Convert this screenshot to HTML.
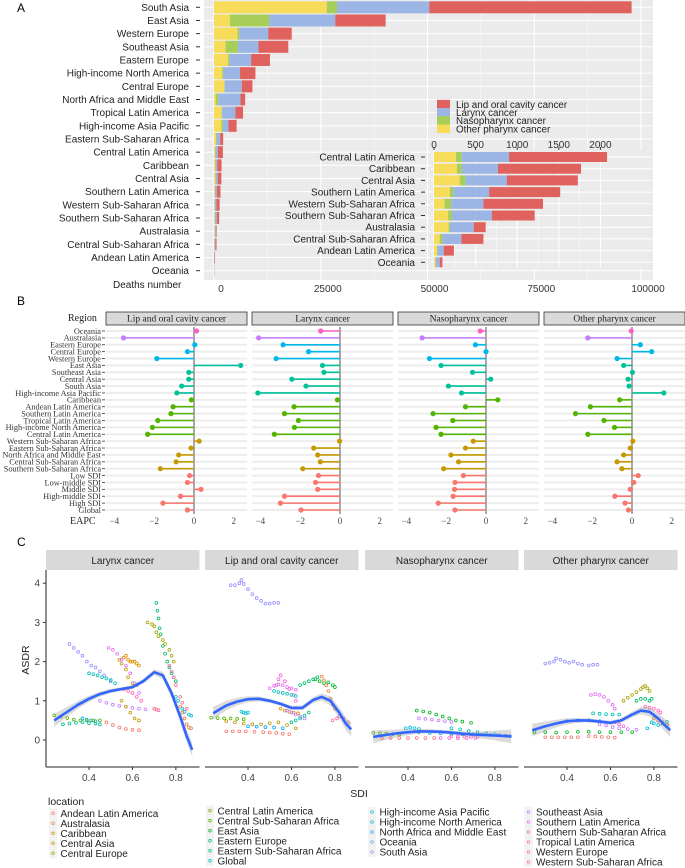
<!DOCTYPE html>
<html><head><meta charset="utf-8">
<style>
html,body{margin:0;padding:0;background:#fff;}
svg{display:block;font-family:"Liberation Sans",sans-serif;}
.serif{font-family:"Liberation Serif",serif;}
</style></head>
<body>
<svg id="fig" width="685" height="868" viewBox="0 0 685 868" xmlns="http://www.w3.org/2000/svg">
<text x="17" y="12" font-size="12">A</text>
<text x="17" y="305" font-size="12">B</text>
<text x="17" y="546" font-size="12">C</text>
<g id="pa"></g>
<g id="pb"></g>
<g id="pc"></g>
</svg>
<script>
// ---------- Panel A data ----------
const regionsA = ["South Asia","East Asia","Western Europe","Southeast Asia","Eastern Europe","High-income North America","Central Europe","North Africa and Middle East","Tropical Latin America","High-income Asia Pacific","Eastern Sub-Saharan Africa","Central Latin America","Caribbean","Central Asia","Southern Latin America","Western Sub-Saharan Africa","Southern Sub-Saharan Africa","Australasia","Central Sub-Saharan Africa","Andean Latin America","Oceania"];
const otherA  = [26400,3700,5500,2700,3300,1900,2400,400,1800,1700,450,265,276,308,191,127,170,175,69,37,16];
const nasoA   = [2400,9200,400,2900,300,300,100,600,100,400,150,69,58,69,42,80,47,16,32,5,5];
const larynxA = [21600,15500,6800,4800,5100,3900,4000,5200,3100,1300,850,568,435,498,430,387,478,286,228,75,48];
const lipA    = [47400,11800,5500,7000,4400,3600,2500,1100,1800,1900,700,1178,998,854,854,716,515,144,265,122,32];
const ticksA = [0,25000,50000,75000,100000];
const ticksInset = [0,500,1000,1500,2000];
const insetStart = 11;
const seriesNamesA = ["Lip and oral cavity cancer","Larynx cancer","Nasopharynx cancer","Other pharynx cancer"];
const colA = {lip:"#E0625E",lar:"#9BB5E5",naso:"#A8CE5A",oth:"#F7DC5A"};

// ---------- Panel B data ----------
const regionsB = ["Oceania","Australasia","Eastern Europe","Central Europe","Western Europe","East Asia","Southeast Asia","Central Asia","South Asia","High-income Asia Pacific","Caribbean","Andean Latin America","Southern Latin America","Tropical Latin America","High-income North America","Central Latin America","Western Sub-Saharan Africa","Eastern Sub-Saharan Africa","North Africa and Middle East","Central Sub-Saharan Africa","Southern Sub-Saharan Africa","Low SDI","Low-middle SDI","Middle SDI","High-middle SDI","High SDI","Global"];
const groupB = [0,1,2,2,2,3,3,3,3,3,4,4,4,4,4,4,5,5,5,5,5,6,6,6,6,6,6];
const panelsB = ["Lip and oral cavity cancer","Larynx cancer","Nasopharynx cancer","Other pharynx cancer"];
const eapcLip = [0.13,-3.54,0.04,-0.33,-1.87,2.35,-0.26,-0.26,-0.62,-0.86,-0.13,-1.05,-1.16,-1.82,-2.09,-2.33,0.26,-0.15,-0.77,-0.9,-1.69,-0.22,-0.33,0.35,-0.68,-1.56,-0.33];
const eapcLarynx = [-0.97,-4.09,-2.86,-1.58,-3.21,-0.88,-0.81,-2.42,-1.71,-4.13,-0.13,-2.31,-2.79,-2.09,-2.29,-3.30,-0.02,-1.32,-1.12,-0.99,-1.87,-1.08,-1.23,-1.12,-2.79,-2.99,-1.96];
const eapcNaso = [-0.29,-3.21,-0.53,0.0,-2.84,-2.26,-0.68,0.24,-1.89,-1.23,0.59,-1.03,-2.66,-1.67,-2.51,-2.26,-0.64,-1.03,-1.76,-1.38,-2.13,-1.14,-1.56,-1.58,-1.65,-2.40,-1.56];
const eapcOther = [-0.04,-2.22,0.42,0.99,-0.75,-0.42,0.02,-0.2,-0.15,1.6,-0.62,-2.09,-2.84,-1.41,-0.88,-2.22,0.04,-0.09,-0.42,-0.75,-0.51,0.31,0.09,-0.09,-0.86,-0.35,-0.18];
const ticksB = [-4,-2,0,2];
const groupColors = ["#FF61C3","#C77CFF","#00B8E7","#00C19A","#53B400","#C49A00","#F8766D"];

// ---------- Panel C data ----------
const panelsC = ["Larynx cancer","Lip and oral cavity cancer","Nasopharynx cancer","Other pharynx cancer"];
const locations = ["Andean Latin America","Australasia","Caribbean","Central Asia","Central Europe","Central Latin America","Central Sub-Saharan Africa","East Asia","Eastern Europe","Eastern Sub-Saharan Africa","Global","High-income Asia Pacific","High-income North America","North Africa and Middle East","Oceania","South Asia","Southeast Asia","Southern Latin America","Southern Sub-Saharan Africa","Tropical Latin America","Western Europe","Western Sub-Saharan Africa"];
const locColors = ["#F8766D","#EC823C","#DA8E00","#C49A00","#A8A400","#85AD00","#53B400","#00B81F","#00BE6C","#00C094","#00C0B8","#00BBD8","#00B4EF","#00A8FF","#619CFF","#9590FF","#C77CFF","#E36EF6","#F565E3","#FF63B6","#FD6C9E","#FF6C90"];
const ticksCx = [0.4,0.6,0.8];
const ticksCy = [0,1,2,3,4];
const trajSdi = [
 [0.31,0.33,0.35,0.37,0.39,0.41,0.43,0.45,0.47,0.50],
 [0.54,0.56,0.57,0.58,0.59,0.60,0.61,0.62,0.63],
 [0.55,0.57,0.58,0.60,0.62],
 [0.71,0.715,0.72,0.725,0.73,0.74,0.75,0.76,0.77,0.78,0.79,0.80],
 [0.67,0.69,0.70,0.71,0.72,0.74,0.75,0.77,0.78,0.79],
 [0.49,0.51,0.53,0.55,0.57,0.59,0.61,0.63],
 [0.45,0.48,0.51,0.54,0.57,0.60,0.63,0.66],
 [0.40,0.42,0.44,0.46,0.48,0.50,0.52],
 [0.77,0.78,0.79,0.80,0.82,0.83,0.85],
 [0.80,0.81,0.83,0.84,0.86,0.87],
 [0.37,0.39,0.41,0.43],
 [0.48,0.51,0.54,0.57,0.60,0.63],
 [0.24,0.27,0.30,0.33,0.36,0.39,0.42,0.45],
 [0.28,0.31,0.34,0.37,0.40,0.43,0.45],
 [0.82,0.83,0.84,0.85,0.86,0.87],
 [0.56,0.58,0.60,0.62,0.64],
 [0.55,0.57,0.59,0.61,0.63],
 [0.70,0.71,0.72],
 [0.32,0.34,0.36,0.37,0.38,0.40,0.42,0.44,0.46,0.48,0.50,0.52,0.54],
 [0.50,0.52,0.54,0.56,0.58,0.60,0.62],
 [0.53,0.54,0.55,0.57,0.59,0.61,0.62],
 [0.71,0.73,0.75,0.77,0.79,0.80],
 [0.64,0.66,0.68,0.70,0.72],
 [0.74,0.75,0.76,0.77,0.78,0.79,0.80],
 [0.52,0.54,0.56,0.58,0.60,0.62],
 [0.55,0.57,0.59,0.61,0.63],
 [0.58,0.60,0.62,0.64,0.66],
 [0.37,0.38,0.39,0.40],
 [0.23,0.26,0.29,0.32,0.35,0.38],
 [0.30,0.34,0.38,0.42,0.46,0.50,0.54,0.58,0.62],
 [0.40,0.44,0.48,0.52,0.56],
 [0.30,0.33,0.36,0.39,0.43],
 [0.47,0.50,0.53,0.56,0.59],
 [0.60,0.62,0.64,0.66,0.68],
 [0.79,0.81,0.82,0.84,0.86],
 [0.44,0.47,0.50,0.53,0.56,0.59,0.62,0.65,0.69],
 [0.45,0.48,0.51,0.54,0.57,0.60],
 [0.24,0.27,0.30,0.33,0.36],
 [0.28,0.32,0.36,0.40,0.44,0.48,0.52],
 [0.39,0.41,0.43,0.45],
 [0.55,0.59,0.63,0.67,0.71],
 [0.60,0.64,0.68,0.72,0.76,0.80],
 [0.70,0.74,0.78,0.82,0.85,0.87],
 [0.60,0.63,0.66,0.69,0.72],
 [0.45,0.50,0.55,0.60,0.65],
 [0.30,0.32,0.34,0.35,0.37,0.39,0.41,0.43,0.45,0.47,0.50,0.52,0.54],
 [0.51,0.53,0.55,0.57,0.59,0.61,0.62],
 [0.66,0.68,0.70,0.72,0.74,0.75,0.76,0.77,0.78],
 [0.72,0.74,0.76,0.78,0.79],
 [0.76,0.78,0.80,0.82,0.83],
 [0.52,0.55,0.58,0.61,0.64],
 [0.77,0.79,0.80,0.82,0.84,0.86],
 [0.25,0.30,0.35,0.40,0.45,0.50,0.55,0.60,0.65,0.70],
 [0.30,0.33,0.36,0.39,0.42,0.45],
 [0.50,0.53,0.56,0.59,0.62],
 [0.55,0.58,0.61,0.64,0.68,0.72],
 [0.62,0.64,0.66],
 [0.80,0.82,0.84,0.86],
 [0.40,0.45,0.50,0.55]
];
const trajAsdr = [
 [2.45,2.35,2.25,2.15,2.0,1.9,1.85,1.75,1.65,1.5],
 [2.05,2.1,2.15,2.05,2.0,2.0,2.0,1.95,1.9],
 [1.95,1.8,1.6,1.45,1.4],
 [3.5,3.3,3.1,2.85,2.7,2.4,2.2,2.0,1.85,1.7,1.6,1.5],
 [3.0,2.95,2.9,2.75,2.65,2.55,2.45,2.3,2.15,2.0],
 [2.35,2.3,2.2,2.05,1.9,1.7,1.45,1.2],
 [1.0,0.95,0.9,0.87,0.85,0.82,0.8,0.78],
 [1.7,1.68,1.65,1.6,1.57,1.53,1.45],
 [1.9,1.75,1.6,1.4,1.1,0.95,0.8],
 [1.1,1.0,0.8,0.72,0.65,0.62],
 [0.55,0.52,0.5,0.48],
 [0.45,0.38,0.32,0.28,0.26,0.25],
 [0.63,0.6,0.56,0.52,0.5,0.5,0.5,0.5],
 [0.4,0.42,0.44,0.45,0.43,0.42,0.4],
 [0.85,0.7,0.55,0.4,0.32,0.3],
 [1.3,1.25,1.2,1.1,1.0],
 [1.0,0.85,0.7,0.55,0.5],
 [0.8,0.78,0.76],
 [3.95,3.95,4.0,4.08,3.98,3.85,3.72,3.62,3.55,3.48,3.48,3.5,3.5],
 [1.32,1.38,1.42,1.4,1.35,1.32,1.28],
 [1.4,1.55,1.65,1.5,1.3,1.15,1.0],
 [1.55,1.5,1.45,1.47,1.4,1.35],
 [1.4,1.45,1.5,1.55,1.6],
 [1.62,1.52,1.4,1.25,1.05,0.9,0.8],
 [1.25,1.22,1.2,1.18,1.15,1.12],
 [0.8,0.75,0.72,0.7,0.68],
 [0.75,0.7,0.65,0.6,0.55],
 [0.72,0.7,0.68,0.7],
 [0.57,0.56,0.55,0.55,0.54,0.53],
 [0.48,0.45,0.42,0.4,0.4,0.43,0.45,0.38,0.3],
 [0.35,0.34,0.33,0.32,0.3],
 [0.22,0.22,0.22,0.22,0.21],
 [0.2,0.19,0.18,0.16,0.15],
 [0.45,0.5,0.55,0.62,0.7],
 [0.5,0.55,0.6,0.55,0.45],
 [0.75,0.73,0.7,0.65,0.6,0.55,0.5,0.47,0.44],
 [0.55,0.54,0.52,0.5,0.48,0.46],
 [0.18,0.17,0.16,0.15,0.14],
 [0.05,0.05,0.05,0.05,0.05,0.05,0.05],
 [0.3,0.32,0.3,0.28],
 [0.05,0.05,0.04,0.05,0.05],
 [0.3,0.27,0.23,0.2,0.17,0.15],
 [0.15,0.14,0.13,0.12,0.11,0.1],
 [0.1,0.09,0.08,0.08,0.08],
 [0.2,0.18,0.17,0.16,0.15],
 [1.95,1.97,2.0,2.08,2.05,2.0,1.97,2.0,1.95,1.92,1.9,1.92,1.92],
 [1.15,1.17,1.15,1.1,1.0,0.9,0.8],
 [1.0,1.08,1.15,1.22,1.3,1.35,1.38,1.32,1.25],
 [1.0,1.05,1.05,1.0,1.05],
 [0.85,0.82,0.8,0.75,0.7],
 [0.68,0.67,0.66,0.65,0.65],
 [0.3,0.45,0.42,0.38,0.42,0.46],
 [0.2,0.2,0.19,0.2,0.21,0.21,0.2,0.2,0.2,0.2],
 [0.07,0.07,0.07,0.07,0.07,0.07],
 [0.1,0.09,0.08,0.07,0.06],
 [0.4,0.37,0.33,0.3,0.28,0.26],
 [0.45,0.4,0.35],
 [0.55,0.5,0.45,0.38],
 [0.48,0.5,0.5,0.48]
];
const trajPanel = [0,0,0,0,0,0,0,0,0,0,0,0,0,0,0,0,0,0, 1,1,1,1,1,1,1,1,1,1,1,1,1,1,1,1,1, 2,2,2,2,2,2,2,2,2,2, 3,3,3,3,3,3,3,3,3,3,3,3,3,3];
const trajLoc = [15,2,3,8,4,17,16,10,20,11,13,0,6,9,1,19,3,21, 15,17,18,7,8,1,10,2,16,11,6,3,13,0,0,9,20, 7,16,6,0,11,18,10,14,19,13, 15,17,4,8,19,10,11,7,0,0,16,18,1,12];
const smoothSdi = [0.24,0.3,0.35,0.4,0.45,0.5,0.55,0.6,0.65,0.7,0.74,0.78,0.82,0.85,0.875];
const smoothLarynx = [0.5,0.72,0.9,1.05,1.17,1.25,1.3,1.35,1.5,1.73,1.65,1.2,0.6,0.1,-0.25];
const smoothLip = [0.68,0.88,0.98,1.04,1.05,1.0,0.92,0.82,0.82,1.02,1.1,1.0,0.7,0.42,0.27];
const smoothNaso = [0.08,0.13,0.17,0.2,0.22,0.22,0.21,0.19,0.16,0.14,0.13,0.12,0.11,0.1,0.09];
const smoothOther = [0.25,0.35,0.42,0.48,0.5,0.5,0.47,0.44,0.5,0.65,0.75,0.72,0.55,0.38,0.25];

const NS="http://www.w3.org/2000/svg";
function mk(parent,tag,attrs,text){const e=document.createElementNS(NS,tag);for(const k in attrs)e.setAttribute(k,attrs[k]);if(text!==undefined)e.textContent=text;parent.appendChild(e);return e;}

// ================= Panel A =================
(function(){
 const g=document.getElementById('pa');
 const L=204,R=653,T=0,B=280;
 const x0=214, pxPer=(641-214)/100000;
 const xs=v=>x0+v*pxPer;
 const y0=7.3, dy=(270.7-7.3)/20, bh=12;
 const ys=i=>y0+i*dy;
 const bg=mk(g,'rect',{x:L,y:T,width:R-L,height:B-T,fill:'#EBEBEB'});
 
 
 for(let i=0;i<ticksA.length;i++){
  mk(g,'line',{x1:xs(ticksA[i]),x2:xs(ticksA[i]),y1:T,y2:B,stroke:'#fff','stroke-width':1});
  if(i<ticksA.length-1){const m=(ticksA[i]+ticksA[i+1])/2;mk(g,'line',{x1:xs(m),x2:xs(m),y1:T,y2:B,stroke:'#fff','stroke-width':0.5});}
  const t=mk(g,'text',{x:xs(ticksA[i])+7,y:292,'font-size':10,fill:'#333','text-anchor':'middle'},String(ticksA[i]));
  
  
 }
 const dn=mk(g,'text',{x:113,y:288,'font-size':10,fill:'#222'},'Deaths number');
 
 
 for(let i=0;i<regionsA.length;i++){
  const y=ys(i);
  mk(g,'line',{x1:L,x2:R,y1:y,y2:y,stroke:'#fff','stroke-width':1});
  const lb=mk(g,'text',{x:189,y:y+3.5,'font-size':10,fill:'#222','text-anchor':'end'},regionsA[i]);
  
  
  mk(g,'line',{x1:196,x2:200,y1:y,y2:y,stroke:'#333','stroke-width':1});
  const vals=[[otherA[i],colA.oth],[nasoA[i],colA.naso],[larynxA[i],colA.lar],[lipA[i],colA.lip]];
  let acc=0;
  for(const [v,c] of vals){
   const r=mk(g,'rect',{x:xs(acc),y:y-bh/2,width:Math.max(0,xs(acc+v)-xs(acc)),height:bh,fill:c});
   
   
   acc+=v;
  }
 }
 const lc=[colA.lip,colA.lar,colA.naso,colA.oth];
 const ly=[104.3,112.7,120.7,129];
 for(let i=0;i<4;i++){
  const k=mk(g,'rect',{x:437,y:ly[i]-4.5,width:13,height:8.5,fill:lc[i]});
  
  
  const t=mk(g,'text',{x:456,y:ly[i]+3.5,'font-size':9.8,fill:'#222'},seriesNamesA[i]);
  
  
 }
 const iL=431,iR=653,iT=150,iB=268;
 const ix0=434, ipx=(600.4-434)/2000;
 const ixs=v=>ix0+v*ipx;
 const iy0=157, idy=(262.3-157)/9, ibh=10;
 const ib=mk(g,'rect',{x:iL,y:iT,width:iR-iL,height:iB-iT,fill:'#EBEBEB'});
 
 
 for(let i=0;i<ticksInset.length;i++){
  const xv=ixs(ticksInset[i]);
  mk(g,'line',{x1:xv,x2:xv,y1:iT,y2:iB,stroke:'#fff','stroke-width':1});
  if(i<ticksInset.length-1){const m=(ticksInset[i]+ticksInset[i+1])/2;mk(g,'line',{x1:ixs(m),x2:ixs(m),y1:iT,y2:iB,stroke:'#fff','stroke-width':0.5});}
  mk(g,'line',{x1:xv,x2:xv,y1:iT-3,y2:iT,stroke:'#333','stroke-width':1});
  const t=mk(g,'text',{x:xv,y:iT-2,'font-size':10,fill:'#333','text-anchor':'middle'},String(ticksInset[i]));
  
  
 }
 for(let j=0;j<regionsA.length-insetStart;j++){
  const i=j+insetStart, y=iy0+j*idy;
  mk(g,'line',{x1:iL,x2:iR,y1:y,y2:y,stroke:'#fff','stroke-width':1});
  const lb=mk(g,'text',{x:415,y:y+3.5,'font-size':10,fill:'#222','text-anchor':'end'},regionsA[i]);
  
  
  mk(g,'line',{x1:421,x2:425,y1:y,y2:y,stroke:'#333','stroke-width':1});
  const vals=[[otherA[i],colA.oth],[nasoA[i],colA.naso],[larynxA[i],colA.lar],[lipA[i],colA.lip]];
  let acc=0;
  for(const [v,c] of vals){
   const r=mk(g,'rect',{x:ixs(acc),y:y-ibh/2,width:Math.max(0,ixs(acc+v)-ixs(acc)),height:ibh,fill:c});
   
   
   acc+=v;
  }
 }
})();

// ================= Panel B =================
(function(){
 const g=document.getElementById('pb');
 const lefts=[106,252,398,544], w=141;
 const T=327,B=514, sT=312, sB=325;
 const y0=331, dy=(510-331)/(regionsB.length-1);
 const ys=i=>y0+i*dy;
 const unit=19.9;
 const data=[eapcLip,eapcLarynx,eapcNaso,eapcOther];
 const rg=mk(g,'text',{x:68,y:321,'font-size':10,fill:'#222',class:'serif'},'Region');
 
 
 const ea=mk(g,'text',{x:70,y:524,'font-size':10,fill:'#222',class:'serif'},'EAPC');
 
 
 for(let i=0;i<regionsB.length;i++){
  const t=mk(g,'text',{x:101,y:ys(i)+2.8,'font-size':8.3,fill:'#333','text-anchor':'end',class:'serif'},regionsB[i]);
  
  
  mk(g,'line',{x1:102,x2:105,y1:ys(i),y2:ys(i),stroke:'#333','stroke-width':0.8});
 }
 for(let p=0;p<4;p++){
  const L=lefts[p], zx=L+88, xs=v=>zx+v*unit;
  const st=mk(g,'rect',{x:L,y:sT,width:w,height:sB-sT,fill:'#D9D9D9',stroke:'#333','stroke-width':0.8});
  
  
  const stt=mk(g,'text',{x:L+w/2,y:sB-3.5,'font-size':9.5,fill:'#222','text-anchor':'middle',class:'serif'},panelsB[p]);
  
  
  for(let i=0;i<regionsB.length;i++) mk(g,'line',{x1:L,x2:L+w,y1:ys(i),y2:ys(i),stroke:'#EDEDED','stroke-width':2});
  mk(g,'line',{x1:zx,x2:zx,y1:T,y2:B,stroke:'#A9A9A9','stroke-width':2});
  for(const tv of ticksB){
   const t=mk(g,'text',{x:xs(tv),y:524,'font-size':9,fill:'#444','text-anchor':'middle',class:'serif'},tv<0?'\u2212'+Math.abs(tv):String(tv));
   
   
  }
  for(let i=0;i<regionsB.length;i++){
   const v=data[p][i], c=groupColors[groupB[i]], y=ys(i);
   const ln=mk(g,'line',{x1:zx,x2:xs(v),y1:y,y2:y,stroke:c,'stroke-width':1.6});
   
   
   const pt=mk(g,'ellipse',{cx:xs(v),cy:y,rx:2.6,ry:2.6,fill:c});
   
   
  }
 }
})();

// ================= Panel C =================
(function(){
 const g=document.getElementById('pc');
 const lefts=[46,205,365,524], w=153.5;
 const sT=550,sB=570,T=570,B=767;
 const y0px=740, ypu=39.2;
 const ys=v=>y0px-v*ypu;
 const smooths=[smoothLarynx,smoothLip,smoothNaso,smoothOther];
 for(let p=0;p<4;p++){
  const L=lefts[p], xs=v=>L+43+(v-0.4)*217.2;
  const st=mk(g,'rect',{x:L,y:sT,width:w,height:sB-sT,fill:'#D9D9D9'});
  
  
  const stt=mk(g,'text',{x:L+w/2,y:564,'font-size':10,fill:'#222','text-anchor':'middle'},panelsC[p]);
  
  
  mk(g,'line',{x1:L,x2:L+w,y1:B,y2:B,stroke:'#222','stroke-width':1});
  for(const tv of ticksCx){
   mk(g,'line',{x1:xs(tv),x2:xs(tv),y1:B,y2:B+3,stroke:'#333','stroke-width':1});
   const t=mk(g,'text',{x:xs(tv),y:781,'font-size':10,fill:'#444','text-anchor':'middle'},tv.toFixed(1));
   
   
  }
  for(let k=0;k<trajSdi.length;k++){
   if(trajPanel[k]!==p) continue;
   const c=locColors[trajLoc[k]];
   for(let j=0;j<trajSdi[k].length;j++){
    const pt=mk(g,'circle',{cx:xs(trajSdi[k][j]),cy:ys(trajAsdr[k][j]),r:1.4,fill:'none',stroke:c,'stroke-width':0.8});
    
    
   }
  }
  const sm=smooths[p];
  const bw=j=>0.05+Math.pow(Math.abs(smoothSdi[j]-0.55),2)*1.2;
  let up='',dn='';
  for(let j=0;j<smoothSdi.length;j++) up+=(j?'L':'M')+xs(smoothSdi[j]).toFixed(1)+','+ys(sm[j]+bw(j)).toFixed(1);
  for(let j=smoothSdi.length-1;j>=0;j--) dn+='L'+xs(smoothSdi[j]).toFixed(1)+','+ys(sm[j]-bw(j)).toFixed(1);
  const bandEl=mk(g,'path',{d:up+dn+'Z',fill:'#999',opacity:0.35});
  
  
  let d='';
  for(let j=0;j<smoothSdi.length;j++) d+=(j?'L':'M')+xs(smoothSdi[j]).toFixed(1)+','+ys(sm[j]).toFixed(1);
  const ln=mk(g,'path',{d:d,fill:'none',stroke:'#3366FF','stroke-width':2.6,'stroke-linejoin':'round'});
  
  
 }
 mk(g,'line',{x1:46,x2:46,y1:T,y2:B,stroke:'#222','stroke-width':1});
 for(const tv of ticksCy){
  mk(g,'line',{x1:43,x2:46,y1:ys(tv),y2:ys(tv),stroke:'#333','stroke-width':1});
  const t=mk(g,'text',{x:40,y:ys(tv)+3.5,'font-size':10,fill:'#444','text-anchor':'end'},String(tv));
  
  
 }
 const yt=mk(g,'text',{x:0,y:0,'font-size':10.5,fill:'#222','text-anchor':'middle',transform:'translate(29,660) rotate(-90)'},'ASDR');
 
 
 const xt=mk(g,'text',{x:359,y:797,'font-size':10.5,fill:'#222','text-anchor':'middle'},'SDI');
 
 
 const lt=mk(g,'text',{x:48,y:805,'font-size':10.5,fill:'#222'},'location');
 
 
 const cols=[[53,813.3,0,5],[210,810.7,5,11],[372,812,11,16],[528.5,812,16,22]];
 for(const [kx,ky,s,e] of cols){
  for(let i=s;i<e;i++){
   const y=ky+(i-s)*10;
   mk(g,'rect',{x:kx-4,y:y-5,width:8,height:10,fill:'#F2F2F2'});
   const k=mk(g,'circle',{cx:kx,cy:y,r:1.3,fill:'none',stroke:locColors[i],'stroke-width':0.7});
   
   
   const t=mk(g,'text',{x:kx+7.5,y:y+3.6,'font-size':10,fill:'#222'},locations[i]);
   
   
  }
 }
})();
</script>
</body></html>
